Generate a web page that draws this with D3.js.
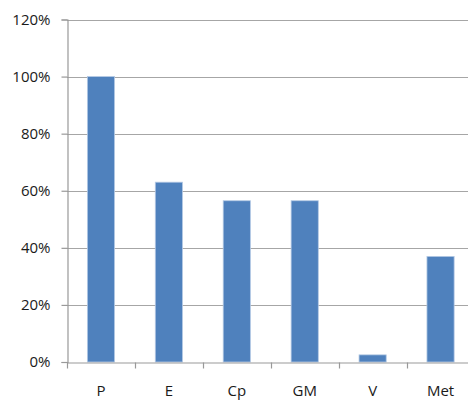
<!DOCTYPE html>
<html>
<head>
<meta charset="utf-8">
<script src="https://cdn.jsdelivr.net/npm/d3@7"></script>
<style>
  html, body { margin: 0; padding: 0; background: #fff; }
  svg { display: block; }
  text { font-family: "Open Sans", Lato, sans-serif; fill: #1a1a1a; }
</style>
</head>
<body>
<svg id="chart" width="468" height="400"></svg>
<script>
// Share of each category
const categories = ["P", "E", "Cp", "GM", "V", "Met"];
const values = [1.00, 0.63, 0.565, 0.565, 0.025, 0.37];
const yTicks = [0, 0.2, 0.4, 0.6, 0.8, 1.0, 1.2];

const svg = d3.select("#chart");
const plotLeft = 67, plotRight = 474.5, plotTop = 19.5, plotBottom = 362;
const labelFont = '"Open Sans", Lato, sans-serif';

const x = d3.scaleBand().domain(categories).range([plotLeft, plotRight]).padding(0);
const y = d3.scaleLinear().domain([0, 1.2]).range([plotBottom, plotTop]);

// Horizontal gridlines
svg.append("g")
  .selectAll("line")
  .data(yTicks.filter(d => d > 0))
  .join("line")
  .attr("x1", plotLeft).attr("x2", 468)
  .attr("y1", d => Math.round(y(d)) + 0.5).attr("y2", d => Math.round(y(d)) + 0.5)
  .attr("stroke", "#a6a6a6").attr("stroke-width", 1.2);

// Bars
const barW = x.bandwidth() * 0.4;
svg.append("g")
  .selectAll("rect")
  .data(values)
  .join("rect")
  .attr("x", (d, i) => x(categories[i]) + (x.bandwidth() - barW) / 2)
  .attr("y", d => y(d))
  .attr("width", barW)
  .attr("height", d => plotBottom - y(d))
  .attr("fill", "#4f81bd")
  .attr("stroke", "#b4c9e4")
  .attr("stroke-width", 0.8);

// Y axis
const yAxis = d3.axisLeft(y).tickValues(yTicks).tickFormat(d3.format(".0%")).tickSize(6).tickPadding(11);
const gy = svg.append("g").attr("transform", `translate(${plotLeft + 0.5},0)`).call(yAxis);
gy.select(".domain").attr("stroke", "#999").attr("stroke-width", 1.2);
gy.selectAll(".tick line").attr("stroke", "#999").attr("stroke-width", 1.2);
gy.selectAll(".tick text").attr("font-size", 15).attr("fill", "#1a1a1a")
  .style("font-family", labelFont);

// X axis with boundary ticks between categories
const xAxis = d3.axisBottom(x).tickSize(0).tickPadding(23);
const gx = svg.append("g").attr("transform", `translate(0,${plotBottom + 0.5})`).call(xAxis);
gx.select(".domain").attr("stroke", "#999").attr("stroke-width", 1.2);
gx.selectAll(".tick text").attr("font-size", 15).attr("fill", "#1a1a1a")
  .style("font-family", labelFont);
gx.append("g")
  .selectAll("line")
  .data(categories)
  .join("line")
  .attr("x1", d => Math.round(x(d)) + 0.5).attr("x2", d => Math.round(x(d)) + 0.5)
  .attr("y1", 0).attr("y2", 6)
  .attr("stroke", "#999").attr("stroke-width", 1.2);
</script>
</body>
</html>
